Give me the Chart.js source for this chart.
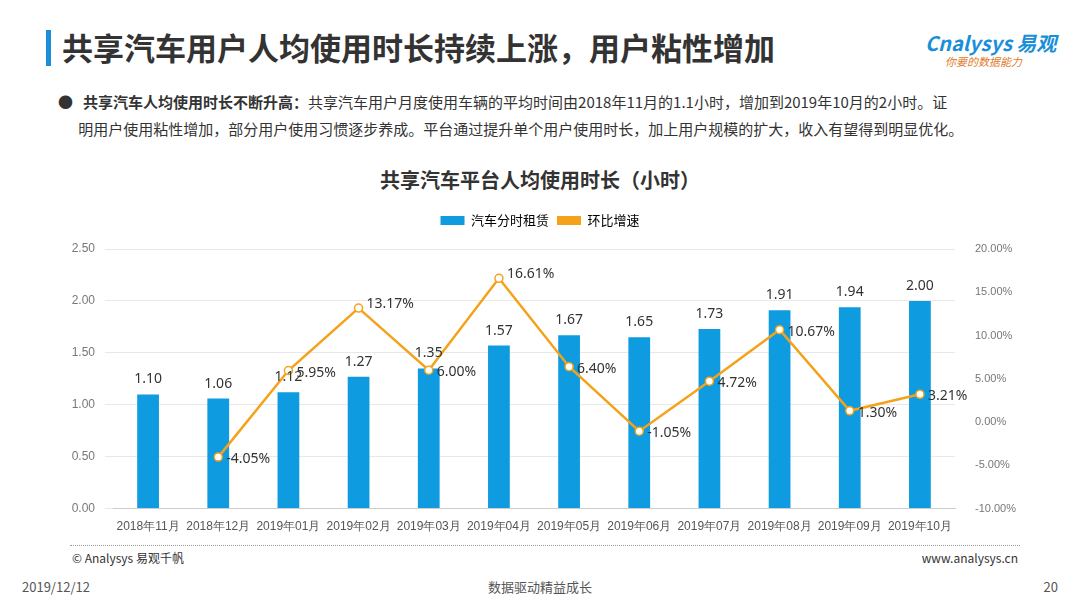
<!DOCTYPE html>
<html><head><meta charset="utf-8">
<script src="https://cdn.jsdelivr.net/npm/chart.js@4"></script>
<style>
body{margin:0;width:1080px;height:608px;position:relative;background:#fff;font-family:"Noto Sans CJK SC","Noto Sans",sans-serif;overflow:hidden}
.abs{position:absolute;white-space:nowrap}
</style></head><body>
<div class="abs" style="left:46px;top:30px;width:5px;height:36px;background:#1a8fd8"></div>
<div class="abs" style="left:62px;top:24px;font-size:31px;font-weight:bold;color:#333">共享汽车用户人均使用时长持续上涨，用户粘性增加</div>
<div class="abs" style="left:925px;top:28px;font-size:20px;font-weight:bold;color:#1a8fd8;font-style:italic">Cnalysys 易观</div>
<div class="abs" style="left:945px;top:53px;font-size:11px;color:#e07b2a;font-style:italic">你要的数据能力</div>
<div class="abs" style="left:58px;top:88px;font-size:15px;color:#333;line-height:27px">●&nbsp;&nbsp;&nbsp;<b>共享汽车人均使用时长不断升高：</b>共享汽车用户月度使用车辆的平均时间由2018年11月的1.1小时，增加到2019年10月的2小时。证<br>&nbsp;&nbsp;&nbsp;&nbsp;&nbsp;&nbsp;明用户使用粘性增加，部分用户使用习惯逐步养成。平台通过提升单个用户使用时长，加上用户规模的扩大，收入有望得到明显优化。</div>
<div class="abs" style="left:0;width:1080px;top:165px;text-align:center;font-size:20px;font-weight:bold;color:#333">共享汽车平台人均使用时长（小时）</div>
<div class="abs" style="left:0;top:206px;width:1080px;height:331px"><canvas id="c"></canvas></div>
<div class="abs" style="left:70px;top:545px;width:950px;border-top:1px dotted #999"></div>
<div class="abs" style="left:72px;top:549px;font-size:12px;color:#333">© Analysys 易观千帆</div>
<div class="abs" style="right:62px;top:549px;font-size:12px;color:#333">www.analysys.cn</div>
<div class="abs" style="left:22px;top:577px;font-size:13px;color:#555">2019/12/12</div>
<div class="abs" style="left:0;width:1080px;text-align:center;top:577px;font-size:13px;color:#555">数据驱动精益成长</div>
<div class="abs" style="right:22px;top:577px;font-size:13px;color:#555">20</div>
<script>
const months = ['2018年11月','2018年12月','2019年01月','2019年02月','2019年03月','2019年04月','2019年05月','2019年06月','2019年07月','2019年08月','2019年09月','2019年10月'];
const hours = [1.10,1.06,1.12,1.27,1.35,1.57,1.67,1.65,1.73,1.91,1.94,2.00];
const growth = [null,-4.05,5.95,13.17,6.00,16.61,6.40,-1.05,4.72,10.67,1.30,3.21];

const labelPlugin = {
  id:'labels',
  afterDatasetsDraw(chart){
    const ctx = chart.ctx;
    ctx.save();
    ctx.font = '14px "Noto Sans", sans-serif';
    ctx.fillStyle = '#333';
    chart.getDatasetMeta(0).data.forEach((b,i)=>{
      ctx.textAlign='center'; ctx.textBaseline='bottom';
      ctx.fillText(hours[i].toFixed(2), b.x, b.y-8);
    });
    chart.getDatasetMeta(1).data.forEach((p,i)=>{
      if(growth[i]==null) return;
      ctx.textAlign='left'; ctx.textBaseline='middle';
      const up = (growth[i]===16.61||growth[i]===13.17);
      ctx.fillText(growth[i].toFixed(2)+'%', p.x+8, up ? p.y-4 : p.y+2);
    });
    ctx.restore();
  }
};

// push plot area down below the legend
const legendGap = {
  id:'legendGap',
  beforeInit(chart){
    const fit = chart.legend.fit;
    chart.legend.fit = function(){ fit.bind(chart.legend)(); this.height += 12; };
  }
};

new Chart(document.getElementById('c'), {
  data:{
    labels: months,
    datasets:[
      {type:'bar', label:'汽车分时租赁', data:hours, backgroundColor:'#0E9BE0', yAxisID:'y', barPercentage:0.31, categoryPercentage:1, order:2},
      {type:'line', label:'环比增速', data:growth, borderColor:'#F5A21B', borderWidth:2.5, pointRadius:4, pointBackgroundColor:'#fff', pointBorderColor:'#F5A21B', pointBorderWidth:1.5, yAxisID:'y1', tension:0, order:1}
    ]
  },
  options:{
    responsive:true, maintainAspectRatio:false, animation:false,
    plugins:{
      legend:{position:'top', labels:{font:{size:13,family:'"Noto Sans CJK SC"'}, color:'#333', boxWidth:24, boxHeight:9, padding:8,
        generateLabels(chart){
          return [
            {text:'汽车分时租赁', fillStyle:'#0E9BE0', strokeStyle:'#0E9BE0', lineWidth:0, datasetIndex:0},
            {text:'环比增速', fillStyle:'#F5A21B', strokeStyle:'#F5A21B', lineWidth:0, datasetIndex:1}
          ];
        }}},
      tooltip:{enabled:false}
    },
    scales:{
      x:{grid:{display:false}, border:{color:'#ccc'}, ticks:{color:'#555', font:{size:12}, maxRotation:0}},
      y:{position:'left', min:0, max:2.5, grid:{color:'#e8e8e8'}, border:{display:false},
        ticks:{stepSize:0.5, color:'#777', font:{size:12}, padding:10, callback:v=>v.toFixed(2)},
        afterFit(s){s.width=113;}},
      y1:{position:'right', min:-10, max:20, grid:{display:false}, border:{display:false},
        ticks:{stepSize:5, color:'#777', font:{size:11}, padding:12, callback:v=>v.toFixed(2)+'%'},
        afterFit(s){s.width=125;}}
    }
  },
  plugins:[labelPlugin, legendGap]
});
</script>
</body></html>
